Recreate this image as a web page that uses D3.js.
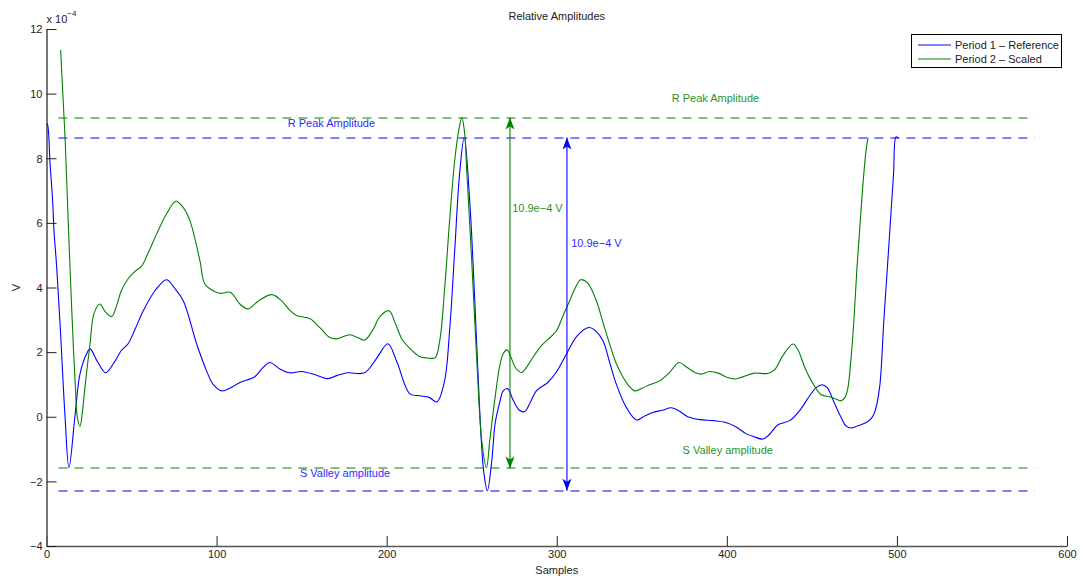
<!DOCTYPE html>
<html>
<head>
<meta charset="utf-8">
<script src="https://cdn.jsdelivr.net/npm/d3@7/dist/d3.min.js"></script>
<style>
  html, body { margin: 0; padding: 0; background: #fff; }
  svg { display: block; font-family: "Liberation Sans", Arial, Helvetica, sans-serif; }
</style>
</head>
<body>
<svg id="chart" width="1083" height="580"></svg>
<script>
// Period 1 (reference) samples: [sample index, amplitude in 1e-4 V]
const period1 = [
  [0, 9.07], [0.5, 9.06], [2.1, 7.82], [3.6, 6.69], [4.4, 5.76], [6, 4.62], [8.3, 2.56],
  [10.9, 0], [13.2, -1.58], [16.7, 0], [19.7, 1.33], [23.6, 1.95], [25.6, 2.1], [30, 1.7],
  [34.8, 1.36], [40, 1.7], [44, 2.05], [48, 2.26], [52, 2.7], [56.9, 3.28], [63.8, 3.9],
  [70.6, 4.24], [75, 4.0], [80.4, 3.59], [88.3, 2.25], [94.1, 1.42], [98, 1.0], [103, 0.8],
  [108, 0.89], [113.7, 1.06], [122.5, 1.24], [127.4, 1.53], [131.3, 1.68], [137.2, 1.48],
  [143, 1.36], [150, 1.4], [158, 1.3], [165.4, 1.18], [171, 1.28], [177, 1.36], [187, 1.36],
  [194, 1.8], [200.7, 2.26], [206, 1.7], [213.6, 0.71], [219.5, 0.65], [225, 0.6],
  [229.5, 0.46], [234, 1.1], [237, 2.66], [240, 5.14], [243, 7.6], [245.6, 8.64],
  [248.8, 6.7], [251.8, 3.6], [254.7, 0.19], [257, -1.67], [259.2, -2.29], [261.8, -1.36],
  [263.8, -0.2], [266.5, 0.45], [268.5, 0.8], [271, 0.87], [274.5, 0.5], [278, 0.2],
  [281.2, 0.16], [284.5, 0.45], [288, 0.8], [294.7, 1.06], [300, 1.4], [305.7, 1.94],
  [312, 2.5], [318.8, 2.76], [323, 2.65], [327.2, 2.35], [331, 1.7], [335, 1.01],
  [340.9, 0.29], [346.8, -0.1], [351, 0.0], [356.4, 0.13], [362, 0.2], [367.4, 0.28],
  [372, 0.18], [377, 0.0], [384, -0.09], [392, -0.12], [399.3, -0.18], [405, -0.3],
  [411.5, -0.53], [416, -0.62], [421.2, -0.69], [425, -0.55], [430, -0.25], [437, -0.12],
  [442.8, 0.19], [448.7, 0.65], [452.5, 0.9], [455.9, 0.99], [459, 0.9], [463, 0.45],
  [467, 0], [470, -0.28], [473.2, -0.35], [477, -0.28], [482, -0.18], [485, -0.05],
  [487, 0.15], [489.8, 0.9], [492.3, 2.97], [494, 4.3], [496, 5.9], [498, 7.5],
  [499.5, 8.66], [501, 8.62]
];

// Period 2 (scaled) samples: [sample index, amplitude in 1e-4 V]
const period2 = [
  [8.3, 11.35], [9.5, 10.1], [10.9, 8.64], [12.8, 6], [14.3, 4], [15.8, 2.15], [17, 0.9],
  [18.1, 0], [19.7, -0.3], [21, 0.1], [22.6, 0.91], [25.6, 2.26], [27.9, 3.19], [31.4, 3.49],
  [34.5, 3.25], [38.3, 3.1], [41, 3.4], [44, 3.9], [48, 4.27], [52, 4.5], [56, 4.67],
  [60, 5.1], [64.8, 5.66], [70.6, 6.28], [76, 6.67], [80, 6.5], [84.3, 6.07], [90.2, 4.83],
  [93.1, 4.11], [98, 3.9], [102, 3.82], [108, 3.85], [113.7, 3.49], [118.4, 3.34],
  [125, 3.6], [132.5, 3.78], [138, 3.6], [143, 3.3], [147, 3.13], [155, 3.03], [160.7, 2.76],
  [166.6, 2.45], [170.5, 2.41], [178.3, 2.54], [183, 2.45], [187, 2.37], [192, 2.7],
  [196, 3.1], [201.4, 3.28], [205, 2.9], [209, 2.4], [213, 2.15], [219.5, 1.86],
  [224, 1.82], [228.5, 1.83], [231.2, 2.35], [234, 3.9], [237, 6.07], [240, 7.93],
  [242.5, 8.9], [244.2, 9.26], [245.8, 8.8], [247.1, 7.6], [250, 4.83], [253, 1.73],
  [255.9, -0.74], [258.7, -1.58], [260.6, -0.74], [263.5, 0.5], [266.5, 1.58], [268.5, 1.95],
  [270.8, 2.07], [273, 1.85], [276, 1.5], [279.2, 1.37], [282.5, 1.55], [286, 1.84],
  [291, 2.2], [295, 2.4], [299.8, 2.66], [303.5, 3.1], [307.6, 3.59], [311, 4.0],
  [314.1, 4.24], [318, 4.15], [323.3, 3.59], [327, 2.95], [331.1, 2.25], [335, 1.65],
  [339, 1.22], [342.5, 0.95], [345.8, 0.8], [350, 0.88], [355, 1.0], [360.5, 1.11],
  [366, 1.35], [371.9, 1.68], [376, 1.55], [381, 1.38], [385, 1.32], [389.9, 1.4],
  [395, 1.35], [400, 1.22], [405, 1.17], [410, 1.25], [416.3, 1.35], [424, 1.34],
  [428, 1.45], [433, 1.9], [438.9, 2.25], [442, 2.05], [446, 1.5], [449.7, 1.11],
  [455.5, 0.68], [460.4, 0.62], [464, 0.55], [467.3, 0.5], [469.5, 0.6], [471.2, 0.9],
  [473, 1.8], [474.7, 2.97], [476.5, 4.6], [478.5, 6.1], [480.5, 7.5], [482, 8.3],
  [483, 8.63]
];

// Reference levels (1e-4 V)
const rPeak1 = 8.64, sValley1 = -2.29;
const rPeak2 = 9.26, sValley2 = -1.60;
const levelSpan = [7, 581];

// Amplitude arrows: sample position for each period
const arrowX1 = 306, arrowX2 = 272.5;

const xTicks = [0, 100, 200, 300, 400, 500, 600];
const yTicks = [-4, -2, 0, 2, 4, 6, 8, 10, 12];
const yTickLabels = ["\u22124", "\u22122", "0", "2", "4", "6", "8", "10", "12"];

const seriesNames = ["Period 1 \u2013 Reference", "Period 2 \u2013 Scaled"];
const BLUE = "#0000ff", GREEN = "#008000";

const svg = d3.select("#chart");
const plotL = 46.5, plotR = 1067, plotT = 29, plotB = 546;
const x = d3.scaleLinear().domain([0, 600]).range([plotL, plotR]);
const y = d3.scaleLinear().domain([-4, 12]).range([plotB, plotT]);

// Axes with inward ticks
const gx = svg.append("g").attr("transform", `translate(0,${plotB})`)
  .call(d3.axisBottom(x).tickValues(xTicks).tickSizeInner(-10).tickSizeOuter(0).tickPadding(4));
const gy = svg.append("g").attr("transform", `translate(${plotL},0)`)
  .call(d3.axisLeft(y).tickValues(yTicks).tickFormat((d, i) => yTickLabels[i])
        .tickSizeInner(-10).tickSizeOuter(0).tickPadding(4));
[gx, gy].forEach(g => {
  g.select(".domain").attr("stroke", "#555").attr("stroke-width", 1.6);
  g.selectAll(".tick line").attr("stroke", "#222").attr("stroke-width", 1);
  g.selectAll(".tick text").attr("font-size", 11).attr("fill", "#222")
    .attr("font-family", "Liberation Sans, Arial, sans-serif");
});
gy.selectAll(".tick text").attr("dy", "0.35em");

// Exponent label
const expo = svg.append("text").attr("x", plotL).attr("y", 23).attr("font-size", 11).attr("fill", "#222");
expo.append("tspan").text("x 10");
expo.append("tspan").attr("dy", -7).attr("font-size", 8).text("\u22124");

// Titles
svg.append("text").attr("x", (plotL + plotR) / 2).attr("y", 20).attr("text-anchor", "middle")
  .attr("font-size", 11).attr("fill", "#222").text("Relative Amplitudes");
svg.append("text").attr("x", (plotL + plotR) / 2).attr("y", 574).attr("text-anchor", "middle")
  .attr("font-size", 11).attr("fill", "#222").text("Samples");
svg.append("text").attr("transform", `translate(20,${(plotT + plotB) / 2}) rotate(-90)`)
  .attr("text-anchor", "middle").attr("font-size", 11).attr("fill", "#222").text("V");

// Dashed reference levels
const levels = [
  { v: rPeak2, c: GREEN }, { v: rPeak1, c: BLUE },
  { v: sValley2, c: GREEN }, { v: sValley1, c: BLUE }
];
const levelG = svg.append("g");
levels.forEach(d => {
  const yy = Math.round(y(d.v));
  levelG.append("line")
    .attr("x1", x(levelSpan[0])).attr("x2", x(levelSpan[1]))
    .attr("y1", yy).attr("y2", yy)
    .style("stroke", d.c).style("stroke-width", 1.2).style("stroke-dasharray", "9,7");
});

// Curves
const line = d3.line().x(d => x(d[0])).y(d => y(d[1])).curve(d3.curveCatmullRom.alpha(0.5));
svg.append("path").datum(period1).attr("d", line).attr("fill", "none")
  .attr("stroke", BLUE).attr("stroke-width", 1.1);
svg.append("path").datum(period2).attr("d", line).attr("fill", "none")
  .attr("stroke", GREEN).attr("stroke-width", 1.1);

// Double-headed amplitude arrows
function arrow(xv, v1, v2, color) {
  const px = x(xv), pTop = y(v1), pBot = y(v2);
  const g = svg.append("g");
  g.append("line").attr("x1", px).attr("x2", px).attr("y1", pTop).attr("y2", pBot)
    .attr("stroke", color).attr("stroke-width", 1.1);
  const L = 12, W = 4.5, N = 9;
  g.append("path").attr("fill", color).attr("d",
    `M${px},${pTop} L${px - W},${pTop + L} L${px},${pTop + N} L${px + W},${pTop + L} Z`);
  g.append("path").attr("fill", color).attr("d",
    `M${px},${pBot} L${px - W},${pBot - L} L${px},${pBot - N} L${px + W},${pBot - L} Z`);
}
arrow(arrowX2, rPeak2, sValley2, GREEN);
arrow(arrowX1, rPeak1, sValley1, BLUE);

// Annotation labels
const notes = [
  { t: "R Peak Amplitude", xv: 141.8, yv: 9.1, c: BLUE },
  { t: "R Peak Amplitude", xv: 367.6, yv: 9.85, c: GREEN },
  { t: "S Valley amplitude", xv: 149, yv: -1.76, c: BLUE },
  { t: "S Valley amplitude", xv: 374, yv: -1.02, c: GREEN },
  { t: `${(rPeak2 - sValley2).toFixed(1)}e\u22124 V`, xv: 273.8, yv: 6.47, c: GREEN },
  { t: `${(rPeak1 - sValley1).toFixed(1)}e\u22124 V`, xv: 308.5, yv: 5.36, c: BLUE }
];
svg.append("g").selectAll("text").data(notes).join("text")
  .attr("x", d => x(d.xv)).attr("y", d => y(d.yv)).attr("dy", "0.35em")
  .attr("font-size", 11).attr("fill", d => d.c).attr("opacity", 0.85).text(d => d.t);

// Legend
const lg = svg.append("g");
lg.append("rect").attr("x", 911.5).attr("y", 34.5).attr("width", 150).attr("height", 33)
  .attr("fill", "#fff").attr("stroke", "#000").attr("stroke-width", 1);
[BLUE, GREEN].forEach((c, i) => {
  const yy = 45 + i * 14;
  lg.append("line").attr("x1", 918).attr("x2", 951).attr("y1", yy).attr("y2", yy)
    .attr("stroke", c).attr("stroke-width", 1.2);
  lg.append("text").attr("x", 955).attr("y", yy).attr("dy", "0.35em")
    .attr("font-size", 11).attr("fill", "#222").text(seriesNames[i]);
});
</script>
</body>
</html>
